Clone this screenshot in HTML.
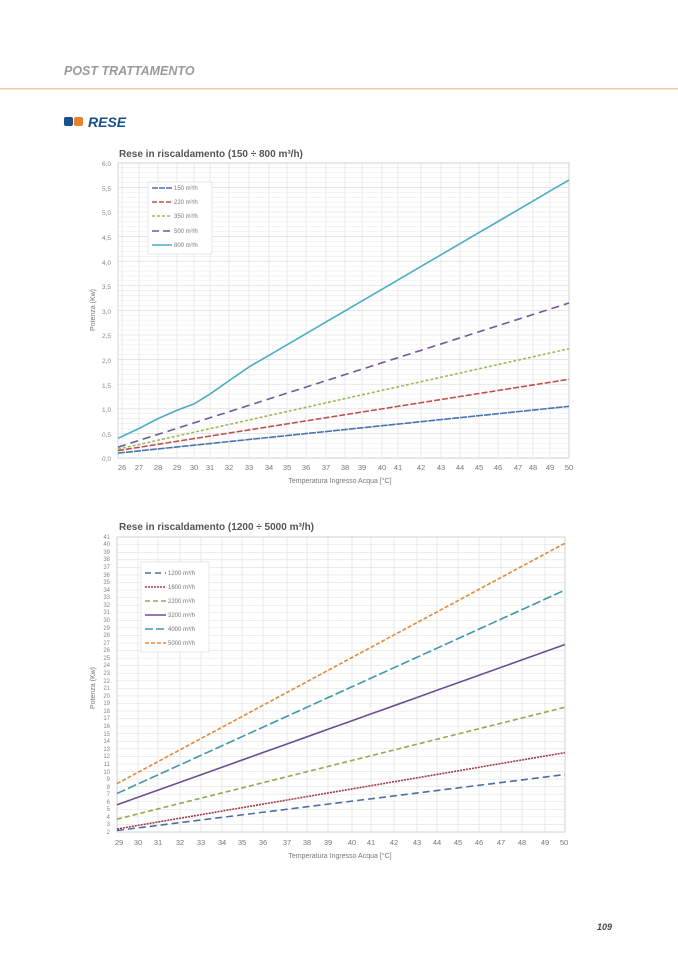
<!DOCTYPE html>
<html><head><meta charset="utf-8"><style>
body{margin:0;background:#fff;width:678px;height:959px;overflow:hidden;font-family:"Liberation Sans",sans-serif}
svg{position:absolute;left:0;top:0}
</style></head><body>
<svg id="s" width="678" height="959" viewBox="0 0 678 959" font-family="Liberation Sans, sans-serif">
<text x="64" y="75" font-size="12.5" font-style="italic" font-weight="bold" fill="#9a9a9a">POST TRATTAMENTO</text>
<rect x="0" y="88" width="678" height="1.5" fill="#f0c9a6"/>
<rect x="64" y="117" width="9" height="9" rx="2" fill="#1b4f8c"/>
<rect x="74" y="117" width="9" height="9" rx="2" fill="#e8822a"/>
<text x="88" y="127" font-size="14" font-style="italic" font-weight="bold" fill="#1b4f8c">RESE</text>
<text x="119" y="157" font-size="10" font-weight="bold" fill="#555">Rese in riscaldamento (150 ÷ 800 m³/h)</text>
<text x="119" y="530" font-size="10" font-weight="bold" fill="#555">Rese in riscaldamento (1200 ÷ 5000 m³/h)</text>
<g id="g1"></g><g id="g2"></g>
<g font-size="6.5" fill="#888" text-anchor="end">
<text x="111" y="461">0,0</text><text x="111" y="437">0,5</text><text x="111" y="412">1,0</text><text x="111" y="388">1,5</text><text x="111" y="363">2,0</text><text x="111" y="338">2,5</text><text x="111" y="314">3,0</text><text x="111" y="289">3,5</text><text x="111" y="265">4,0</text><text x="111" y="240">4,5</text><text x="111" y="215">5,0</text><text x="111" y="191">5,5</text><text x="111" y="166">6,0</text>
</g>
<g font-size="7.5" fill="#777" text-anchor="middle">
<text x="122" y="470">26</text><text x="139" y="470">27</text><text x="158" y="470">28</text><text x="177" y="470">29</text><text x="194" y="470">30</text><text x="210" y="470">31</text><text x="229" y="470">32</text><text x="249" y="470">33</text><text x="269" y="470">34</text><text x="287" y="470">35</text><text x="306" y="470">36</text><text x="326" y="470">37</text><text x="345" y="470">38</text><text x="362" y="470">39</text><text x="382" y="470">40</text><text x="398" y="470">41</text><text x="421" y="470">42</text><text x="441" y="470">43</text><text x="460" y="470">44</text><text x="479" y="470">45</text><text x="498" y="470">46</text><text x="518" y="470">47</text><text x="533" y="470">48</text><text x="550" y="470">49</text><text x="569" y="470">50</text>
<text x="340" y="483" font-size="7">Temperatura Ingresso Acqua [°C]</text>
<text x="0" y="0" font-size="7" transform="translate(95,310) rotate(-90)">Potenza  (Kw)</text>
<text x="119" y="845">29</text><text x="138" y="845">30</text><text x="158" y="845">31</text><text x="180" y="845">32</text><text x="201" y="845">33</text><text x="222" y="845">34</text><text x="242" y="845">35</text><text x="263" y="845">36</text><text x="287" y="845">37</text><text x="307" y="845">38</text><text x="328" y="845">39</text><text x="352" y="845">40</text><text x="371" y="845">41</text><text x="394" y="845">42</text><text x="417" y="845">43</text><text x="437" y="845">44</text><text x="458" y="845">45</text><text x="479" y="845">46</text><text x="501" y="845">47</text><text x="522" y="845">48</text><text x="545" y="845">49</text><text x="564" y="845">50</text>
<text x="340" y="858" font-size="7">Temperatura Ingresso Acqua [°C]</text>
<text x="0" y="0" font-size="7" transform="translate(95,688) rotate(-90)">Potenza  (Kw)</text>
</g>
<g font-size="6" fill="#888" text-anchor="end">
<text x="110" y="834">2</text><text x="110" y="826">3</text><text x="110" y="819">4</text><text x="110" y="811">5</text><text x="110" y="804">6</text><text x="110" y="796">7</text><text x="110" y="789">8</text><text x="110" y="781">9</text><text x="110" y="774">10</text><text x="110" y="766">11</text><text x="110" y="758">12</text><text x="110" y="751">13</text><text x="110" y="743">14</text><text x="110" y="736">15</text><text x="110" y="728">16</text><text x="110" y="720">17</text><text x="110" y="713">18</text><text x="110" y="705">19</text><text x="110" y="698">20</text><text x="110" y="690">21</text><text x="110" y="683">22</text><text x="110" y="675">23</text><text x="110" y="667">24</text><text x="110" y="660">25</text><text x="110" y="652">26</text><text x="110" y="645">27</text><text x="110" y="637">28</text><text x="110" y="630">29</text><text x="110" y="622">30</text><text x="110" y="614">31</text><text x="110" y="607">32</text><text x="110" y="599">33</text><text x="110" y="592">34</text><text x="110" y="584">35</text><text x="110" y="577">36</text><text x="110" y="569">37</text><text x="110" y="561">38</text><text x="110" y="554">39</text><text x="110" y="546">40</text><text x="110" y="539">41</text>
</g>
<rect x="148" y="182" width="64" height="72" fill="#fff" stroke="#ddd" stroke-width="0.7"/>
<g font-size="6" fill="#777">
<line x1="152" y1="188" x2="172" y2="188" stroke="#4a72b0" stroke-width="1.5" stroke-dasharray="6,1"/><text x="174" y="190">150 m³/h</text>
<line x1="152" y1="202" x2="172" y2="202" stroke="#c0504d" stroke-width="1.5" stroke-dasharray="5,2"/><text x="174" y="204">220 m³/h</text>
<line x1="152" y1="216" x2="172" y2="216" stroke="#9bbb59" stroke-width="1.5" stroke-dasharray="3,2"/><text x="174" y="218">350 m³/h</text>
<line x1="152" y1="231" x2="172" y2="231" stroke="#6f5a9a" stroke-width="1.5" stroke-dasharray="7,4"/><text x="174" y="233">500 m³/h</text>
<line x1="152" y1="245" x2="172" y2="245" stroke="#4bacc6" stroke-width="1.5"/><text x="174" y="247">800 m³/h</text>
</g>
<rect x="141" y="562" width="68" height="90" fill="#fff" stroke="#ddd" stroke-width="0.7"/>
<g font-size="6" fill="#777">
<line x1="145" y1="573" x2="166" y2="573" stroke="#4a6fa5" stroke-width="1.5" stroke-dasharray="6,4"/><text x="168" y="575">1200 m³/h</text>
<line x1="145" y1="587" x2="166" y2="587" stroke="#a0394a" stroke-width="1.5" stroke-dasharray="2,1"/><text x="168" y="589">1600 m³/h</text>
<line x1="145" y1="601" x2="166" y2="601" stroke="#8faa55" stroke-width="1.5" stroke-dasharray="5,3"/><text x="168" y="603">2200 m³/h</text>
<line x1="145" y1="615" x2="166" y2="615" stroke="#6a5090" stroke-width="1.5"/><text x="168" y="617">3200 m³/h</text>
<line x1="145" y1="629" x2="166" y2="629" stroke="#3f97b0" stroke-width="1.5" stroke-dasharray="8,3"/><text x="168" y="631">4000 m³/h</text>
<line x1="145" y1="643" x2="166" y2="643" stroke="#e3893a" stroke-width="1.5" stroke-dasharray="4,2"/><text x="168" y="645">5000 m³/h</text>
</g>
<text x="612" y="930" font-size="9" font-weight="bold" font-style="italic" fill="#444" text-anchor="end">109</text>
</svg>
<script>
var NS="http://www.w3.org/2000/svg";
function el(g,t,a){var e=document.createElementNS(NS,t);for(var k in a)e.setAttribute(k,a[k]);document.getElementById(g).appendChild(e);return e;}
// chart1
var X1=[122,139,158,177,194,210,229,249,269,287,306,326,345,362,382,398,421,441,460,479,498,518,533,550,569];
var y1=function(v){return 458-v*49.2;};
for(var i=0;i<=60;i++){var y=y1(i/10);el("g1","line",{x1:118,x2:569,y1:y,y2:y,stroke:i%5==0?"#d8d8d8":"#eeeeee","stroke-width":0.6});}
X1.forEach(function(x){el("g1","line",{x1:x,x2:x,y1:163,y2:458,stroke:"#dcdcdc","stroke-width":0.6});});
el("g1","rect",{x:118,y:163,width:451,height:295,fill:"none",stroke:"#ccc","stroke-width":0.8});
function ser(g,X,y,vals,c,d,w){var p=vals.map(function(v,i){return X[i]+","+y(v);}).join(" ");var a={points:p,fill:"none",stroke:c,"stroke-width":w||1.6};if(d)a["stroke-dasharray"]=d;el(g,"polyline",a);}
function lin(a,b,n){var r=[];for(var i=0;i<n;i++)r.push(a+(b-a)*i/(n-1));return r;}
var X1f=[118].concat(X1.slice(1,-1)).concat([569]);
function linX(X,a,b){var x0=X[0],x1=X[X.length-1];return X.map(function(x){return a+(b-a)*(x-x0)/(x1-x0);});}
ser("g1",X1f,y1,linX(X1f,0.1,1.05),"#4a72b0","7,1");
ser("g1",X1f,y1,linX(X1f,0.15,1.6),"#c0504d","6,2");
ser("g1",X1f,y1,linX(X1f,0.18,2.22),"#9bbb59","3,2");
ser("g1",X1f,y1,linX(X1f,0.22,3.15),"#6f5a9a","8,5");
var v8=[0.4,0.6,0.8,0.97,1.1,1.3,1.57,1.85];var s=(5.65-1.85)/(569-249);
for(var i=8;i<X1f.length;i++)v8.push(1.85+s*(X1f[i]-249));
ser("g1",X1f,y1,v8,"#4bacc6",null);
// chart2
var X2=[117,138,158,180,201,222,242,263,287,307,328,352,371,394,417,437,458,479,501,522,545,565];
var y2=function(v){return 832-(v-2)*7.56;};
for(var i=2;i<=41;i++){var y=y2(i);el("g2","line",{x1:117,x2:565,y1:y,y2:y,stroke:"#e2e2e2","stroke-width":0.6});}
X2.forEach(function(x){el("g2","line",{x1:x,x2:x,y1:537,y2:832,stroke:"#dcdcdc","stroke-width":0.6});});
el("g2","rect",{x:117,y:537,width:448,height:295,fill:"none",stroke:"#ccc","stroke-width":0.8});
ser("g2",X2,y2,linX(X2,2.2,9.6),"#4a6fa5","7,4");
ser("g2",X2,y2,linX(X2,2.4,12.5),"#a0394a","2,1");
ser("g2",X2,y2,linX(X2,3.7,18.5),"#8faa55","5,3");
ser("g2",X2,y2,linX(X2,5.6,26.8),"#6a5090",null);
ser("g2",X2,y2,linX(X2,7.1,34),"#3f97b0","9,3");
ser("g2",X2,y2,linX(X2,8.4,40.2),"#e3893a","4,2");
</script>
</body></html>
